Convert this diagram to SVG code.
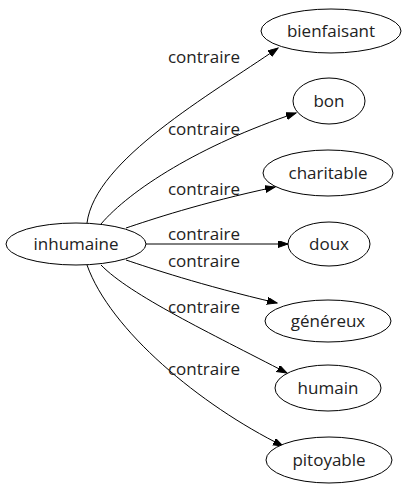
<svg xmlns="http://www.w3.org/2000/svg" width="406" height="491" viewBox="0 0 406 491">
<style>
.n ellipse{fill:#fff;stroke:#000;stroke-width:1}
text{font-family:"Open Sans","DejaVu Sans",sans-serif;font-size:17px;fill:#222;text-anchor:middle}
.e path{fill:none;stroke:#000;stroke-width:1}
</style>
<defs>
<marker id="ah" markerUnits="userSpaceOnUse" markerWidth="11" markerHeight="8" refX="10" refY="3.5" orient="auto">
<path d="M0,0 L10,3.5 L0,7 z" fill="#000" stroke="#000" stroke-width="1"/>
</marker>
</defs>
<g class="e" id="edges">
<path d="M87,223 C95,160 210,95 278,48" marker-end="url(#ah)"/>
<path d="M101,224 C130,190 200,145 296,113" marker-end="url(#ah)"/>
<path d="M126,228 C150,220 200,203 275,187" marker-end="url(#ah)"/>
<path d="M146,244 L288,244" marker-end="url(#ah)"/>
<path d="M126,260 C150,268 200,285 277,303" marker-end="url(#ah)"/>
<path d="M101,265 C130,295 210,333 287,373" marker-end="url(#ah)"/>
<path d="M87,265 C110,330 200,405 283,446" marker-end="url(#ah)"/>
<text x="204" y="63">contraire</text>
<text x="204" y="135">contraire</text>
<text x="204" y="195">contraire</text>
<text x="204" y="240">contraire</text>
<text x="204" y="267">contraire</text>
<text x="204" y="313">contraire</text>
<text x="204" y="375">contraire</text>
</g>
<g class="n" id="inhumaine"><ellipse cx="76" cy="244" rx="70" ry="21"/><text x="76" y="250">inhumaine</text></g>
<g class="n" id="bienfaisant"><ellipse cx="331" cy="31" rx="70" ry="22"/><text x="331" y="37">bienfaisant</text></g>
<g class="n" id="bon"><ellipse cx="329" cy="101" rx="36" ry="23"/><text x="329" y="107">bon</text></g>
<g class="n" id="charitable"><ellipse cx="328" cy="173" rx="65" ry="23"/><text x="328" y="179">charitable</text></g>
<g class="n" id="doux"><ellipse cx="329" cy="244" rx="41" ry="22"/><text x="329" y="250">doux</text></g>
<g class="n" id="genereux"><ellipse cx="328" cy="321" rx="63" ry="21"/><text x="328" y="327">généreux</text></g>
<g class="n" id="humain"><ellipse cx="328" cy="388" rx="53" ry="23"/><text x="328" y="394">humain</text></g>
<g class="n" id="pitoyable"><ellipse cx="329" cy="460" rx="63" ry="23"/><text x="329" y="466">pitoyable</text></g>
</svg>
